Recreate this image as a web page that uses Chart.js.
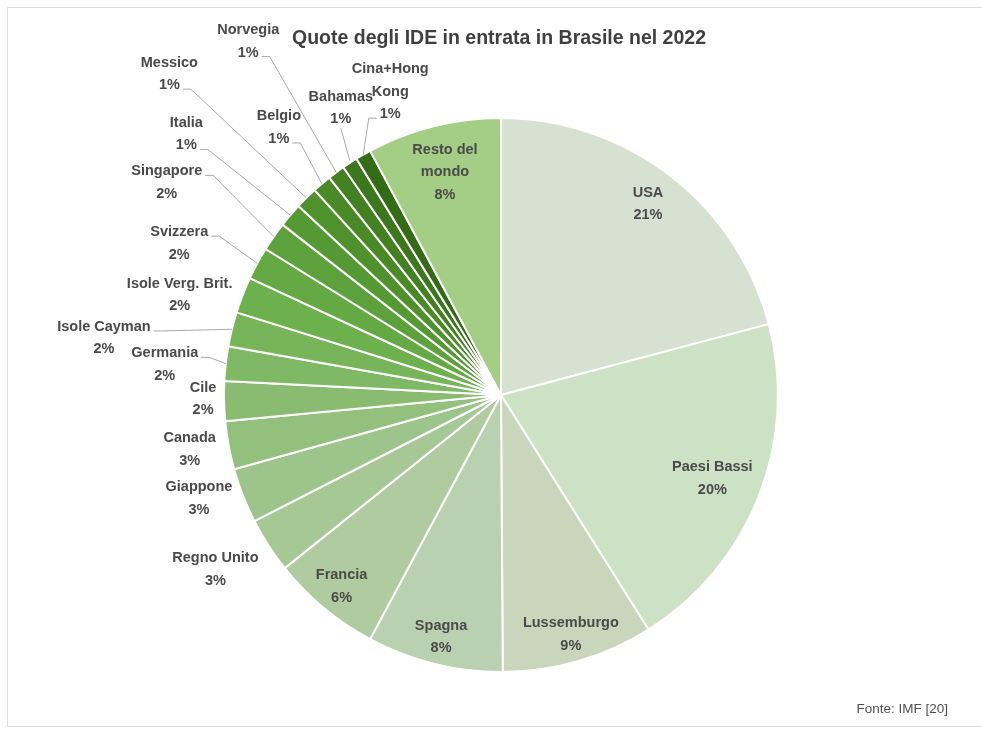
<!DOCTYPE html>
<html>
<head>
<meta charset="utf-8">
<script src="https://cdn.jsdelivr.net/npm/chart.js@4.4.1/dist/chart.umd.min.js"></script>
<style>
html, body { margin: 0; padding: 0; background: #fff; }
#wrap { position: relative; width: 982px; height: 733px; overflow: hidden; }
#frame { position: absolute; left: 7px; top: 7px; width: 1000px; height: 718px; border: 1px solid #dedede; }
canvas { position: absolute; left: 0; top: 0; }
</style>
</head>
<body>
<div id="wrap">
  <div id="frame"></div>
  <canvas id="chart" width="982" height="733"></canvas>
</div>
<script>
const countries = ['USA', 'Paesi Bassi', 'Lussemburgo', 'Spagna', 'Francia', 'Regno Unito', 'Giappone',
    'Canada', 'Cile', 'Germania', 'Isole Cayman', 'Isole Verg. Brit.', 'Svizzera', 'Singapore',
    'Italia', 'Messico', 'Belgio', 'Norvegia', 'Bahamas', 'Cina+Hong Kong', 'Resto del mondo'];
const shares = [20.8, 20.1, 8.8, 7.9, 6.4, 3.2, 3.2, 2.8, 2.3, 2.0, 2.0, 2.1, 1.9, 1.7,
    1.4, 1.3, 1.1, 1.0, 0.9, 0.9, 7.8];
const colors = ['#d6e1d2', '#cde1c5', '#c9d6bb', '#bad1b1', '#afcb9f', '#a6c895', '#9dc48a',
    '#94c07e', '#89bc71', '#80b965', '#77b45a', '#6db04e', '#64a944', '#5ca13b',
    '#559934', '#4f912d', '#498a27', '#428022', '#3c761d', '#346b17', '#a4cd86'];

const titleText = 'Quote degli IDE in entrata in Brasile nel 2022';
const sourceText = 'Fonte: IMF [20]';

// label placement: inner labels sit at a fraction of the radius,
// outer ones are shifted from the slice edge and get a leader line
const labelLayout = [
    { frac: 0.87 }, { frac: 0.82 }, { frac: 0.9 }, { frac: 0.9 }, { frac: 0.9 },
    { dx: -53, dy: 24 }, { dx: -44, dy: 3 }, { dx: -39, dy: 4 }, { dx: -21, dy: -2 },
    { dx: -61, dy: 1, lead: 'r0' }, { dx: -128, dy: 9, lead: 'r0' }, { dx: -63, dy: 0 },
    { dx: -78, dy: -20, lead: 'r0' }, { dx: -107, dy: -54, lead: 'r0' },
    { dx: -104, dy: -81, lead: 'r1' }, { dx: -137, dy: -124, lead: 'r1' },
    { dx: -43, dy: -56, lead: 'r1' }, { dx: -88, dy: -131, lead: 'r1' },
    { dx: -9, dy: -55, lead: 'b' }, { dx: 27, dy: -63, lead: 'l2', wrap: 80 },
    { frac: 0.83, wrap: 80 }
];

function wrapText(ctx, text, maxW) {
    if (!maxW) return [text];
    const words = text.split(' ');
    const lines = [];
    let cur = '';
    words.forEach(w => {
        const test = cur ? cur + ' ' + w : w;
        if (cur && ctx.measureText(test).width > maxW) {
            lines.push(cur);
            cur = w;
        } else {
            cur = test;
        }
    });
    lines.push(cur);
    return lines;
}

const pieLabels = {
    id: 'pieLabels',
    afterDatasetsDraw(chart) {
        const ctx = chart.ctx;
        const arcs = chart.getDatasetMeta(0).data;
        const total = shares.reduce((a, b) => a + b, 0);
        const lineH = 22.5;
        ctx.save();
        ctx.font = 'bold 14.5px "Liberation Sans", Arial, sans-serif';
        ctx.textAlign = 'center';
        ctx.textBaseline = 'middle';
        arcs.forEach((arc, i) => {
            const lay = labelLayout[i];
            const mid = (arc.startAngle + arc.endAngle) / 2;
            const r = arc.outerRadius;
            const lines = wrapText(ctx, countries[i], lay.wrap);
            lines.push(Math.round(shares[i] / total * 100) + '%');
            let cx, cy;
            const ax = arc.x + Math.cos(mid) * r;
            const ay = arc.y + Math.sin(mid) * r;
            if (lay.frac) {
                cx = arc.x + Math.cos(mid) * r * lay.frac;
                cy = arc.y + Math.sin(mid) * r * lay.frac;
            } else {
                cx = ax + lay.dx;
                cy = ay + lay.dy;
            }
            const rowY = k => cy + (k - (lines.length - 1) / 2) * lineH;
            if (lay.lead) {
                ctx.strokeStyle = '#a8a8a8';
                ctx.lineWidth = 1;
                ctx.beginPath();
                if (lay.lead === 'b') {
                    ctx.moveTo(cx, rowY(lines.length - 1) + 9);
                    ctx.lineTo(ax, ay - 2);
                } else {
                    const k = parseInt(lay.lead.slice(1));
                    const w = ctx.measureText(lines[k]).width;
                    const y = rowY(k) + 4;
                    if (lay.lead[0] === 'r') {
                        ctx.moveTo(cx + w / 2 + 3, y);
                        ctx.lineTo(cx + w / 2 + 11, y);
                    } else {
                        ctx.moveTo(cx - w / 2 - 3, y);
                        ctx.lineTo(cx - w / 2 - 11, y);
                    }
                    ctx.lineTo(ax, ay);
                }
                ctx.stroke();
            }
            ctx.fillStyle = '#4a4a4a';
            lines.forEach((t, k) => ctx.fillText(t, cx, rowY(k)));
        });

        ctx.fillStyle = '#404040';
        ctx.font = 'bold 19.5px "Liberation Sans", Arial, sans-serif';
        ctx.fillText(titleText, 499, 39);
        ctx.font = '13.5px "Liberation Sans", Arial, sans-serif';
        ctx.fillStyle = '#505050';
        ctx.textAlign = 'right';
        ctx.fillText(sourceText, 948, 709);
        ctx.restore();
    }
};

const ctx1 = document.getElementById('chart').getContext('2d');

let chart1 = new Chart(ctx1, {
    type: 'pie',
    data: {
        labels: countries,
        datasets: [{
            data: shares,
            backgroundColor: colors,
            borderColor: '#ffffff',
            borderWidth: 2,
            hoverOffset: 0
        }]
    },
    options: {
        responsive: false,
        animation: false,
        layout: {
            padding: { left: 223, right: 203, top: 117, bottom: 60 }
        },
        plugins: {
            legend: { display: false },
            title: { display: false },
            tooltip: { enabled: false }
        }
    },
    plugins: [pieLabels]
});
</script>
</body>
</html>
